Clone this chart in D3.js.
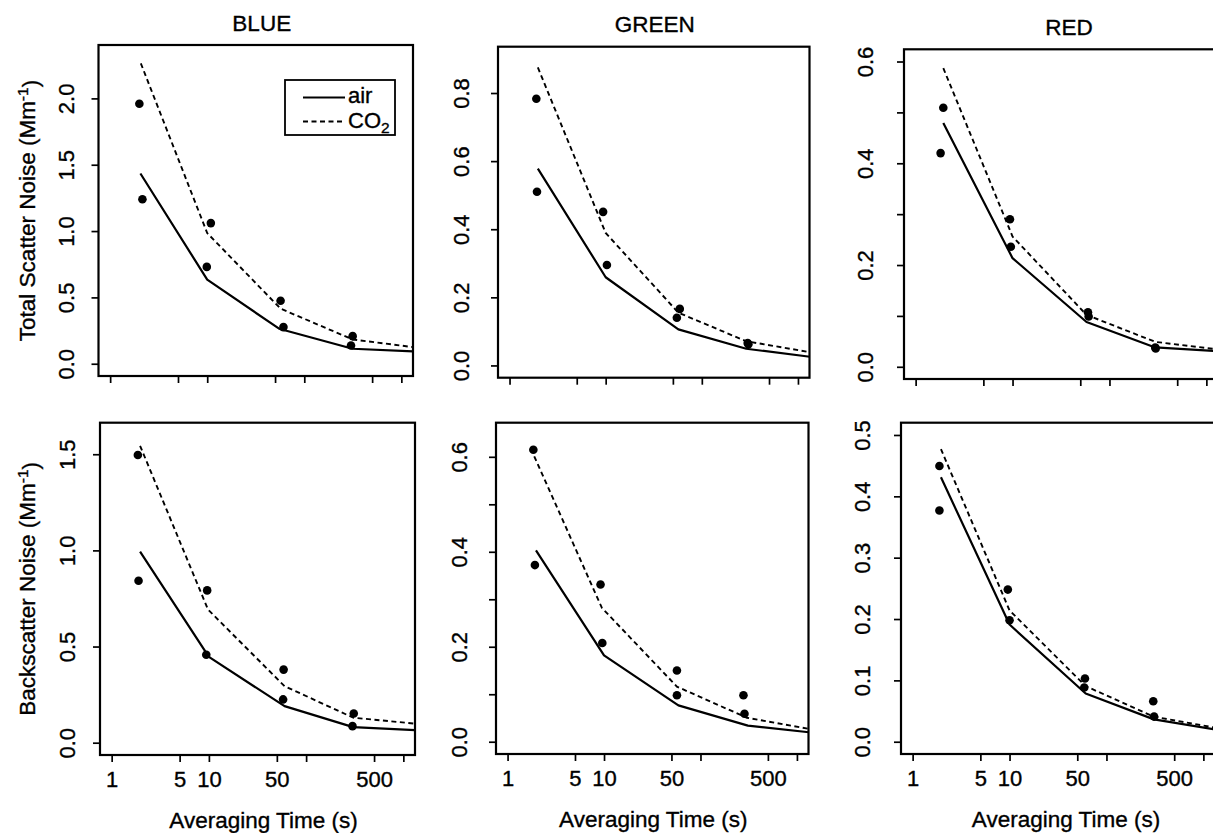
<!DOCTYPE html>
<html><head><meta charset="utf-8">
<script src="https://cdn.jsdelivr.net/npm/d3@7"></script>
<style>
body{margin:0;background:#fff}
svg text{font-family:"Liberation Sans",Arial,Helvetica,sans-serif;fill:#000;stroke:#000;stroke-width:0.35px}
</style>
</head><body>
<svg id="chart" width="1213" height="833"></svg>
<script>
// ---------------- data (averaging time [s], noise [Mm^-1]) ----------------
const columnTitles = ["BLUE", "GREEN", "RED"];
const rowTitles = ["Total Scatter Noise (Mm", "Backscatter Noise (Mm"];
const xTitle = "Averaging Time (s)";
const legendNames = ["air", "CO"];
const xLimits = [1, 1000];
const xTickValues = [1, 5, 10, 50, 100, 500, 1000];
const xTickLabels = ["1", "5", "10", "50", "", "500", ""];

// Total scatter — BLUE
const blueTotalObs = [[2.0,1.96],[2.15,1.24],[10.9,1.06],[9.9,0.73],[57,0.475],[61,0.276],[315,0.208],[303,0.138]];
const blueTotalAir = [[2.05,1.434],[10,0.634],[55,0.264],[315,0.113],[1330,0.093]];
const blueTotalCO2 = [[2.07,2.264],[10,0.985],[57,0.415],[315,0.183],[1330,0.125]];
// Total scatter — GREEN
const greenTotalObs = [[1.9,0.783],[1.93,0.51],[9.4,0.451],[10.3,0.295],[59,0.166],[55,0.140],[300,0.066],[305,0.062]];
const greenTotalAir = [[1.97,0.578],[10,0.259],[57,0.106],[290,0.049],[1330,0.0255]];
const greenTotalCO2 = [[1.97,0.875],[10,0.389],[57,0.155],[290,0.071],[1330,0.039]];
// Total scatter — RED
const redTotalObs = [[1.93,0.509],[1.81,0.42],[9.4,0.29],[9.6,0.236],[60,0.107],[61,0.099],[297,0.038],[300,0.036]];
const redTotalAir = [[1.93,0.479],[10,0.2135],[58,0.088],[297,0.038],[1330,0.0306]];
const redTotalCO2 = [[1.93,0.587],[10,0.256],[58,0.102],[297,0.049],[1330,0.034]];
// Backscatter — BLUE
const blueBackObs = [[1.86,1.496],[1.89,0.842],[9.6,0.792],[9.4,0.457],[58.7,0.38],[58,0.225],[309,0.152],[300,0.086]];
const blueBackAir = [[1.96,0.994],[10,0.446],[60,0.19],[305,0.081],[1330,0.065]];
const blueBackCO2 = [[1.96,1.544],[9.8,0.692],[60,0.294],[305,0.13],[1330,0.099]];
// Backscatter — GREEN
const greenBackObs = [[1.85,0.615],[1.92,0.372],[9.2,0.331],[9.6,0.208],[57,0.150],[57,0.098],[279,0.098],[286,0.059]];
const greenBackAir = [[1.97,0.403],[10,0.182],[59,0.0765],[310,0.034],[1330,0.020]];
const greenBackCO2 = [[1.89,0.601],[9.5,0.282],[57,0.116],[303,0.0505],[1330,0.027]];
// Backscatter — RED
const redBackObs = [[1.89,0.4495],[1.89,0.377],[9.6,0.248],[10,0.198],[60,0.103],[59,0.0885],[304,0.066],[310,0.041]];
const redBackAir = [[1.96,0.431],[10,0.191],[61,0.0787],[309,0.0364],[1330,0.020]];
const redBackCO2 = [[1.96,0.477],[10,0.214],[61,0.0906],[309,0.0407],[1330,0.0228]];

// y-axis limits and ticks per panel
const yMaxes = [2.31, 0.90, 0.60, 1.60, 0.646, 0.50];
const yTicksBlueTotal = [0, 0.5, 1.0, 1.5, 2.0];
const yTicksGreenTotal = [0, 0.2, 0.4, 0.6, 0.8];
const yTicksRedTotal = [0, 0.1, 0.2, 0.3, 0.4, 0.5, 0.6];
const yTicksBlueBack = [0, 0.5, 1.0, 1.5];
const yTicksGreenBack = [0, 0.1, 0.2, 0.3, 0.4, 0.5, 0.6];
const yTicksRedBack = [0, 0.1, 0.2, 0.3, 0.4, 0.5];
const yLabelsBlueTotal = [0, 0.5, 1.0, 1.5, 2.0];
const yLabelsGreenTotal = [0, 0.2, 0.4, 0.6, 0.8];
const yLabelsRedTotal = [0, 0.2, 0.4, 0.6];
const yLabelsBlueBack = [0, 0.5, 1.0, 1.5];
const yLabelsGreenBack = [0, 0.2, 0.4, 0.6];
const yLabelsRedBack = [0, 0.1, 0.2, 0.3, 0.4, 0.5];

const panels = [
  {obs: blueTotalObs, air: blueTotalAir, co2: blueTotalCO2, yMax: yMaxes[0], yTicks: yTicksBlueTotal, yLabels: yLabelsBlueTotal},
  {obs: greenTotalObs, air: greenTotalAir, co2: greenTotalCO2, yMax: yMaxes[1], yTicks: yTicksGreenTotal, yLabels: yLabelsGreenTotal},
  {obs: redTotalObs, air: redTotalAir, co2: redTotalCO2, yMax: yMaxes[2], yTicks: yTicksRedTotal, yLabels: yLabelsRedTotal},
  {obs: blueBackObs, air: blueBackAir, co2: blueBackCO2, yMax: yMaxes[3], yTicks: yTicksBlueBack, yLabels: yLabelsBlueBack},
  {obs: greenBackObs, air: greenBackAir, co2: greenBackCO2, yMax: yMaxes[4], yTicks: yTicksGreenBack, yLabels: yLabelsGreenBack},
  {obs: redBackObs, air: redBackAir, co2: redBackCO2, yMax: yMaxes[5], yTicks: yTicksRedBack, yLabels: yLabelsRedBack}
];

// ---------------- layout ----------------
const frames = [
  [98.5, 413, 45, 376], [498, 809.5, 46.7, 377.7], [904, 1218, 49.3, 379],
  [100, 415, 422.7, 755], [496, 808.5, 422.7, 754], [901, 1215, 422.7, 754]
];
const yLabelOffset = [25, 29.5, 31.5];
const textShift = [6, 1, 8];
const tickFont = "22px", titleFont = "22.5px";

const svg = d3.select("#chart");

panels.forEach((p, i) => {
  const [x0, x1, y0, y1] = frames[i];
  const col = i % 3, row = Math.floor(i / 3);
  const lx0 = Math.log10(xLimits[0]), lx1 = Math.log10(xLimits[1]);
  const pad = 0.04 * (lx1 - lx0);
  const x = d3.scaleLog().domain([Math.pow(10, lx0 - pad), Math.pow(10, lx1 + pad)]).range([x0, x1]);
  const ypad = 0.04 * p.yMax;
  const y = d3.scaleLinear().domain([-ypad, p.yMax + ypad]).range([y1, y0]);

  const g = svg.append("g");
  const clipId = "clip" + i;
  g.append("clipPath").attr("id", clipId).append("rect")
    .attr("x", x0).attr("y", y0).attr("width", x1 - x0).attr("height", y1 - y0);

  const line = d3.line().x(d => x(d[0])).y(d => y(d[1]));
  const plot = g.append("g").attr("clip-path", `url(#${clipId})`);
  plot.append("path").datum(p.air).attr("d", line)
    .attr("fill", "none").attr("stroke", "#000").attr("stroke-width", 2.2).attr("stroke-linejoin", "round");
  plot.append("path").datum(p.co2).attr("d", line)
    .attr("fill", "none").attr("stroke", "#000").attr("stroke-width", 1.9).attr("stroke-dasharray", "5,3.5");
  plot.selectAll("circle").data(p.obs).join("circle")
    .attr("cx", d => x(d[0])).attr("cy", d => y(d[1])).attr("r", 4.3).attr("fill", "#000");

  g.append("rect").attr("x", x0).attr("y", y0).attr("width", x1 - x0).attr("height", y1 - y0)
    .attr("fill", "none").attr("stroke", "#000").attr("stroke-width", 2.2);

  // y axis
  const fmt = d3.format(".1f");
  const yAxis = d3.axisLeft(y).tickValues(p.yTicks)
    .tickFormat(v => p.yLabels.some(l => Math.abs(l - v) < 1e-9) ? fmt(v) : "")
    .tickSize(7).tickSizeOuter(0);
  const yg = g.append("g").attr("transform", `translate(${x0},0)`).call(yAxis);
  yg.select(".domain").remove();
  yg.selectAll(".tick line").attr("stroke", "#000").attr("stroke-width", 1.7);
  yg.selectAll(".tick text")
    .attr("transform", "rotate(-90)").attr("x", 0).attr("y", -yLabelOffset[col]).attr("dy", 0)
    .attr("text-anchor", "middle").style("font-size", tickFont);

  // x axis
  const xAxis = d3.axisBottom(x).tickValues(xTickValues)
    .tickFormat((v, k) => row === 1 ? xTickLabels[k] : "")
    .tickSize(7).tickSizeOuter(0);
  const xg = g.append("g").attr("transform", `translate(0,${y1})`).call(xAxis);
  xg.select(".domain").remove();
  xg.selectAll(".tick line").attr("stroke", "#000").attr("stroke-width", 1.7);
  xg.selectAll(".tick text").attr("y", 32).attr("dy", 0).style("font-size", tickFont);

  const cx = (x0 + x1) / 2 + textShift[col];
  if (row === 0) {
    g.append("text").attr("x", cx).attr("y", y0 - 14.3).attr("text-anchor", "middle")
      .style("font-size", titleFont).text(columnTitles[col]);
  } else {
    g.append("text").attr("x", cx).attr("y", y1 + 72.5).attr("text-anchor", "middle")
      .style("font-size", titleFont).text(xTitle);
  }
  if (col === 0) {
    const t = g.append("text")
      .attr("transform", `translate(35,${(y0 + y1) / 2}) rotate(-90)`)
      .attr("text-anchor", "middle").style("font-size", titleFont);
    t.append("tspan").text(rowTitles[row]);
    t.append("tspan").attr("dy", "-0.45em").style("font-size", "15.5px").text("-1");
    t.append("tspan").attr("dy", "0.45em").text(")");
  }

  // legend in first panel
  if (i === 0) {
    const lw = 110, lh = 55;
    const lxr = x1 - 18, lyt = y0 + 35;
    const lg = g.append("g");
    lg.append("rect").attr("x", lxr - lw).attr("y", lyt).attr("width", lw).attr("height", lh)
      .attr("fill", "#fff").attr("stroke", "#000").attr("stroke-width", 1.8);
    const sx0 = lxr - lw + 18, sx1 = sx0 + 42;
    lg.append("line").attr("x1", sx0).attr("x2", sx1).attr("y1", lyt + 17.5).attr("y2", lyt + 17.5)
      .attr("stroke", "#000").attr("stroke-width", 2.2);
    lg.append("line").attr("x1", sx0).attr("x2", sx1).attr("y1", lyt + 41.5).attr("y2", lyt + 41.5)
      .attr("stroke", "#000").attr("stroke-width", 1.9).attr("stroke-dasharray", "5,3.5");
    lg.append("text").attr("x", sx1 + 3).attr("y", lyt + 23).style("font-size", tickFont).text(legendNames[0]);
    const ct = lg.append("text").attr("x", sx1 + 3).attr("y", lyt + 48).style("font-size", tickFont);
    ct.append("tspan").text(legendNames[1]);
    ct.append("tspan").attr("dy", "0.3em").style("font-size", "15.5px").text("2");
  }
});
</script>
</body></html>
